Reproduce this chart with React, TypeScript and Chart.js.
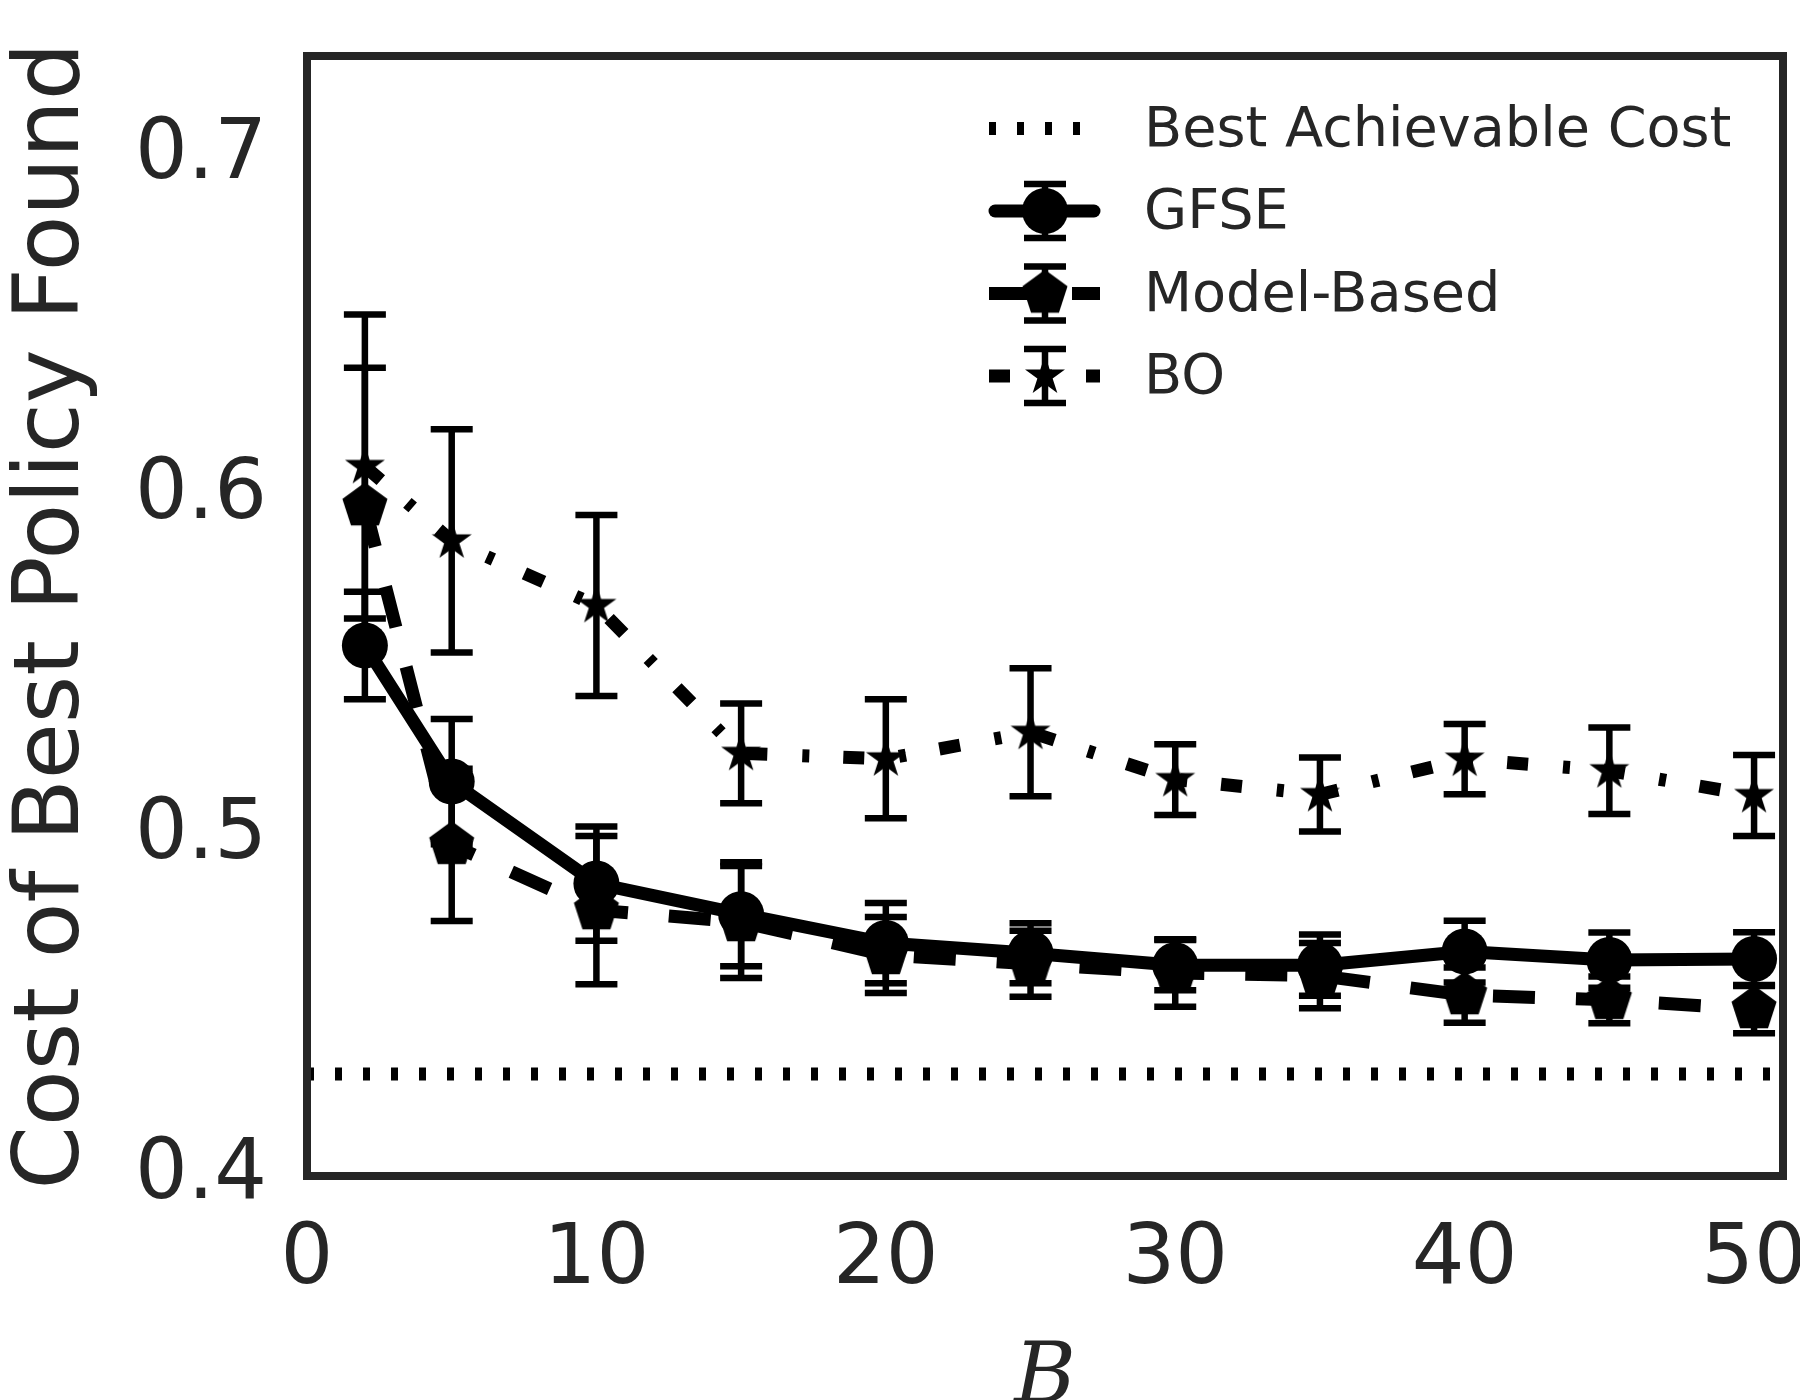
import React, { useEffect, useRef } from 'react';
import { Chart, registerables } from 'chart.js';

Chart.register(...registerables);

// ---------------- data ----------------
const budgets = [2, 5, 10, 15, 20, 25, 30, 35, 40, 45, 50];
const gfseMean = [0.556, 0.516, 0.486, 0.477, 0.4685, 0.4655, 0.462, 0.462, 0.466, 0.4635, 0.4638];
const gfseErr = [0.0158, 0.0184, 0.0168, 0.0153, 0.0118, 0.0088, 0.0074, 0.009, 0.0091, 0.0081, 0.0079];
const modelMean = [0.597, 0.4974, 0.4782, 0.4747, 0.465, 0.4624, 0.4597, 0.4589, 0.4532, 0.4518, 0.4491];
const modelErr = [0.0407, 0.0224, 0.0218, 0.0165, 0.0112, 0.0097, 0.0099, 0.0096, 0.0081, 0.0069, 0.0071];
const boMean = [0.6087, 0.5868, 0.5678, 0.5243, 0.5227, 0.5305, 0.5166, 0.5122, 0.5226, 0.5192, 0.5119];
const boErr = [0.0447, 0.0328, 0.0266, 0.0147, 0.0175, 0.0188, 0.0104, 0.0109, 0.0103, 0.0127, 0.0119];
const bestAchievable = 0.43;
const xTicks = [0, 10, 20, 30, 40, 50];
const yTicks = [0.4, 0.5, 0.6, 0.7];
const xMin = 0;
const xMax = 51;
const yMin = 0.4;
const yMax = 0.7294;
const seriesLabels = ['Best Achievable Cost', 'GFSE', 'Model-Based', 'BO'];
const xTitle = 'B';
const yTitle = 'Cost of Best Policy Found';

const TEXT = '#262626';

function polygonCanvas(R: number, n: number, innerRatio: number | null) {
  const s = Math.ceil(2 * R) + 4;
  const c = document.createElement('canvas');
  c.width = s;
  c.height = s;
  const ctx = c.getContext('2d')!;
  ctx.fillStyle = '#000';
  ctx.beginPath();
  const cx = s / 2;
  const cy = s / 2;
  const count = innerRatio ? n * 2 : n;
  for (let i = 0; i < count; i++) {
    const a = -Math.PI / 2 + (i * 2 * Math.PI) / count;
    const r = innerRatio && i % 2 === 1 ? R * innerRatio : R;
    const px = cx + r * Math.cos(a);
    const py = cy + r * Math.sin(a);
    if (i === 0) ctx.moveTo(px, py);
    else ctx.lineTo(px, py);
  }
  ctx.closePath();
  ctx.fill();
  return c;
}

const errorBarPlugin = {
  id: 'errorBars',
  afterDatasetsDraw(chart: any) {
    const { ctx, scales } = chart;
    const xs = scales.x;
    const ys = scales.y;
    ctx.save();
    ctx.strokeStyle = '#000';
    ctx.lineWidth = 6.5;
    ctx.lineCap = 'butt';
    chart.data.datasets.forEach((ds: any) => {
      const errs = ds.errorBars;
      if (!errs) return;
      ds.data.forEach((p: any, i: number) => {
        const px = xs.getPixelForValue(p.x);
        const yT = ys.getPixelForValue(p.y + errs[i]);
        const yB = ys.getPixelForValue(p.y - errs[i]);
        ctx.beginPath();
        ctx.moveTo(px, yT);
        ctx.lineTo(px, yB);
        ctx.moveTo(px - 21, yT);
        ctx.lineTo(px + 21, yT);
        ctx.moveTo(px - 21, yB);
        ctx.lineTo(px + 21, yB);
        ctx.stroke();
      });
    });
    ctx.restore();
  },
};

const framePlugin = {
  id: 'frameAndLegend',
  afterDraw(chart: any) {
    const { ctx, chartArea } = chart;
    ctx.save();
    // frame
    ctx.strokeStyle = TEXT;
    ctx.lineWidth = 8;
    ctx.strokeRect(chartArea.left, chartArea.top, chartArea.right - chartArea.left, chartArea.bottom - chartArea.top);

    // legend
    const x0 = 989;
    const x1 = 1100;
    const mx = 1045;
    const textX = 1144;
    chart.data.datasets.forEach((ds: any, i: number) => {
      const y = 128.5 + i * 82.5;
      ctx.save();
      ctx.strokeStyle = '#000';
      ctx.lineWidth = ds.borderWidth;
      ctx.setLineDash(ds.borderDash || []);
      ctx.lineDashOffset = 0;
      ctx.lineCap = ds.borderCapStyle || 'butt';
      ctx.beginPath();
      ctx.moveTo(x0 + (ds.borderCapStyle === 'round' ? 6 : 0), y);
      ctx.lineTo(x1 - (ds.borderCapStyle === 'round' ? 6 : 0), y);
      ctx.stroke();
      ctx.setLineDash([]);
      if (ds.errorBars) {
        const h = 27;
        ctx.lineWidth = 6.5;
        ctx.lineCap = 'butt';
        ctx.beginPath();
        ctx.moveTo(mx, y - h);
        ctx.lineTo(mx, y + h);
        ctx.moveTo(mx - 21, y - h);
        ctx.lineTo(mx + 21, y - h);
        ctx.moveTo(mx - 21, y + h);
        ctx.lineTo(mx + 21, y + h);
        ctx.stroke();
      }
      const ps = ds.pointStyle;
      if (ps === 'circle') {
        ctx.fillStyle = '#000';
        ctx.beginPath();
        ctx.arc(mx, y, ds.pointRadius, 0, Math.PI * 2);
        ctx.fill();
      } else if (ps && typeof ps === 'object') {
        ctx.drawImage(ps, mx - ps.width / 2, y - ps.height / 2);
      }
      ctx.fillStyle = TEXT;
      ctx.font = '55.7px "DejaVu Sans"';
      ctx.textAlign = 'left';
      ctx.textBaseline = 'middle';
      ctx.fillText(ds.label, textX, y + 3);
      ctx.restore();
    });
    ctx.restore();
  },
};

export default function App() {
  const ref = useRef<HTMLCanvasElement | null>(null);

  useEffect(() => {
    if (!ref.current) return;
    Chart.defaults.font.family = '"DejaVu Sans"';
    Chart.defaults.color = TEXT;
    const pentagon = polygonCanvas(23.7, 5, null);
    const star = polygonCanvas(21, 5, 0.382);

    const pts = (ys: number[]) => budgets.map((b, i) => ({ x: b, y: ys[i] }));

    const chart = new Chart(ref.current, {
      type: 'line',
      data: {
        datasets: [
          {
            label: seriesLabels[0],
            data: [
              { x: xMin, y: bestAchievable },
              { x: xMax, y: bestAchievable },
            ],
            borderColor: '#000',
            borderWidth: 13,
            borderDash: [7, 21],
            pointRadius: 0,
            pointStyle: false as any,
          } as any,
          {
            label: seriesLabels[1],
            data: pts(gfseMean),
            errorBars: gfseErr,
            borderColor: '#000',
            backgroundColor: '#000',
            borderWidth: 13,
            borderCapStyle: 'round',
            borderJoinStyle: 'round',
            pointStyle: 'circle',
            pointRadius: 23,
            pointBorderWidth: 0,
            pointBackgroundColor: '#000',
          } as any,
          {
            label: seriesLabels[2],
            data: pts(modelMean),
            errorBars: modelErr,
            borderColor: '#000',
            backgroundColor: '#000',
            borderWidth: 13,
            borderDash: [42, 41],
            pointStyle: pentagon,
            pointRadius: 23,
            pointBorderWidth: 0,
          } as any,
          {
            label: seriesLabels[3],
            data: pts(boMean),
            errorBars: boErr,
            borderColor: '#000',
            backgroundColor: '#000',
            borderWidth: 13,
            borderDash: [21, 35, 7, 34],
            pointStyle: star,
            pointRadius: 21,
            pointBorderWidth: 0,
          } as any,
        ],
      },
      options: {
        responsive: false,
        animation: false,
        devicePixelRatio: 1,
        layout: { autoPadding: false, padding: { top: 56, right: 17, left: 0, bottom: 0 } },
        plugins: {
          legend: { display: false },
          tooltip: { enabled: false },
        },
        elements: { line: { tension: 0 } },
        scales: {
          x: {
            type: 'linear',
            min: xMin,
            max: xMax,
            grid: { display: false, drawTicks: false },
            border: { display: false },
            afterBuildTicks: (s: any) => {
              s.ticks = xTicks.map((v) => ({ value: v }));
            },
            afterFit: (s: any) => {
              s.height = 224;
              s.paddingLeft = 0;
              s.paddingRight = 0;
            },
            ticks: {
              autoSkip: false,
              maxRotation: 0,
              padding: 36,
              color: TEXT,
              font: { size: 83 },
              callback: (v: any) => String(v),
            },
            title: {
              display: true,
              text: xTitle,
              color: TEXT,
              padding: 0,
              font: { family: '"DejaVu Serif"', style: 'italic', size: 84, lineHeight: 0.47 },
            },
          },
          y: {
            type: 'linear',
            min: yMin,
            max: yMax,
            grid: { display: false, drawTicks: false },
            border: { display: false },
            afterBuildTicks: (s: any) => {
              s.ticks = yTicks.map((v) => ({ value: v }));
            },
            afterFit: (s: any) => {
              s.width = 307;
              s.paddingTop = 0;
              s.paddingBottom = 0;
            },
            ticks: {
              autoSkip: false,
              padding: 40,
              color: TEXT,
              font: { size: 83 },
              callback: (v: any) => Number(v).toFixed(1),
            },
            title: {
              display: true,
              text: yTitle,
              color: TEXT,
              padding: 0,
              font: { size: 91, lineHeight: 1.2 },
            },
          },
        },
      },
      plugins: [errorBarPlugin, framePlugin],
    } as any);

    return () => chart.destroy();
  }, []);

  return (
    <div style={{ position: 'absolute', left: 0, top: 0, width: 1800, height: 1400, background: '#fff' }}>
      <canvas ref={ref} width={1800} height={1400} style={{ width: 1800, height: 1400, display: 'block' }} />
    </div>
  );
}
